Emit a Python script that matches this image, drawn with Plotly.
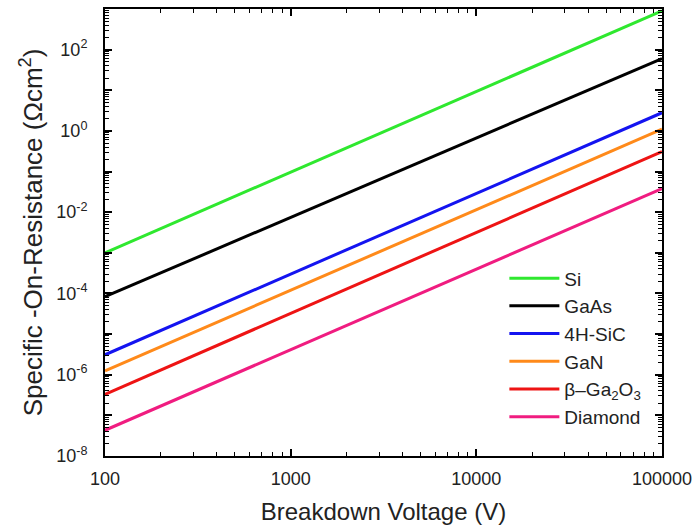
import plotly.graph_objects as go

# Data (specific on-resistance, Ohm cm^2, at 100 V and 100 kV)
voltage = [100, 100000]
materials = ["Si", "GaAs", "4H-SiC", "GaN", "β–Ga<sub>2</sub>O<sub>3</sub>", "Diamond"]
si = [1.0e-3, 9.0e2]
gaas = [8.3e-5, 60]
sic = [3.1e-6, 2.8]
gan = [1.25e-6, 1.1]
ga2o3 = [3.3e-7, 0.31]
diamond = [4.3e-8, 0.038]
series = [si, gaas, sic, gan, ga2o3, diamond]
colors = ["#2fe82f", "#000000", "#1414f0", "#ff8a1a", "#ee1414", "#f01c80"]

y_decades = list(range(-8, 4))
y_ticktext = [("10<sup>%d</sup>" % d) if d % 2 == 0 and d <= 2 else "" for d in y_decades]
x_ticks = [100, 1000, 10000, 100000]
x_ticktext = ["100", "1000", "10000", "100000"]

fig = go.Figure()
for name, vals, col in zip(materials, series, colors):
    fig.add_trace(go.Scatter(x=voltage, y=vals, mode="lines", name=name,
                             line=dict(color=col, width=3)))

font_family = "Liberation Sans, Arial, sans-serif"
minor_y = [k * 10.0 ** d for d in range(-8, 3) for k in range(2, 10)]
minor_x = [k * 10.0 ** d for d in range(2, 5) for k in range(2, 10)]

fig.update_layout(
    width=699, height=528,
    margin=dict(l=105, r=33, t=7, b=71),
    paper_bgcolor="white", plot_bgcolor="white",
    font=dict(family=font_family, color="#222222", size=18),
    showlegend=True,
    legend=dict(x=0.717, y=0.44, xanchor="left", yanchor="top",
                bgcolor="rgba(0,0,0,0)", font=dict(size=19),
                tracegroupgap=0, itemwidth=50),
    xaxis=dict(type="log", range=[2, 5], showgrid=False, zeroline=False,
               showline=True, linecolor="black", linewidth=2, mirror="allticks",
               ticks="inside", ticklen=7, tickwidth=1.5, tickcolor="black",
               tickvals=x_ticks, ticktext=x_ticktext,
               tickfont=dict(size=18), ticklabelstandoff=5,
               minor=dict(tickvals=minor_x, ticks="inside", ticklen=4, tickcolor="black", tickwidth=1),
               title=dict(text="Breakdown Voltage (V)", font=dict(size=24), standoff=16)),
    yaxis=dict(type="log", range=[-8, 3], showgrid=False, zeroline=False,
               showline=True, linecolor="black", linewidth=2, mirror="allticks",
               ticks="inside", ticklen=7, tickwidth=1.5, tickcolor="black",
               tickvals=[10.0 ** d for d in y_decades], ticktext=y_ticktext,
               tickfont=dict(size=18), ticklabelstandoff=12,
               minor=dict(tickvals=minor_y, ticks="inside", ticklen=4, tickcolor="black", tickwidth=1),
               title=dict(text="Specific -On-Resistance (Ωcm<sup>2</sup>)", font=dict(size=26), standoff=6)),
)

fig.write_html("out.html")
